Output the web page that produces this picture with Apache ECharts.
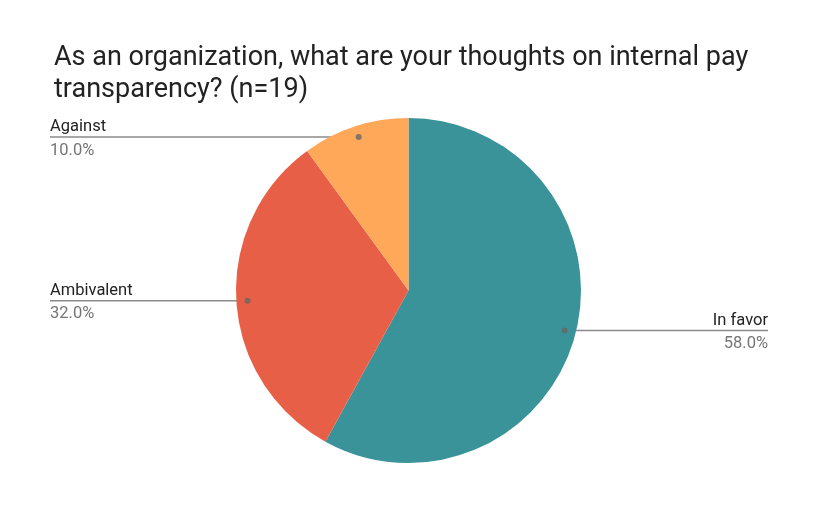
<!DOCTYPE html>
<html><head><meta charset="utf-8">
<script src="https://cdn.jsdelivr.net/npm/echarts@6/dist/echarts.min.js"></script>
<style>html,body{margin:0;padding:0;background:#fff}#c{width:818px;height:506px}</style>
</head><body><div id="c"></div>
<script>
const titleText = 'As an organization, what are your thoughts on internal pay\ntransparency? (n=19)';
const categories = ['In favor', 'Ambivalent', 'Against'];
const values = [58.0, 32.0, 10.0];
const colors = ['#3a9399', '#e85f47', '#ffa85a'];

const CX = 408.5, CY = 290.5, R = 172.5, DOT = 0.935, EDGE = 50, W = 818;
const total = values.reduce((a, b) => a + b, 0);
const mids = [];
let acc = 0;
values.forEach(v => { mids.push((acc + v / 2) / total * 100); acc += v; });
function dotPos(i) {
  const a = mids[i] / 100 * 2 * Math.PI;
  return [CX + Math.sin(a) * R * DOT, CY - Math.cos(a) * R * DOT];
}

const chart = echarts.init(document.getElementById('c'));
chart.setOption({
  animation: false,
  title: {
    text: titleText, left: 49, top: 37,
    textStyle: { fontFamily: 'Roboto', fontSize: 27, fontWeight: 'normal', color: '#222', lineHeight: 32 }
  },
  polar: { center: [CX, CY], radius: R },
  angleAxis: { type: 'value', min: 0, max: 100, startAngle: 90, show: false },
  radiusAxis: { type: 'value', min: 0, max: 1, show: false },
  series: [{
    type: 'pie',
    center: [CX, CY],
    radius: R,
    startAngle: 90,
    clockwise: true,
    data: categories.map((c, i) => ({ name: c, value: values[i], itemStyle: { color: colors[i] } })),
    label: {
      show: true, position: 'outside',
      formatter: p => '{n|' + p.name + '}\n{v|' + p.value.toFixed(1) + '%}',
      rich: {
        n: { fontFamily: 'Roboto', fontSize: 16.5, color: '#222', lineHeight: 27 },
        v: { fontFamily: 'Roboto', fontSize: 16.5, color: '#757575', lineHeight: 20 }
      }
    },
    labelLine: { show: true, lineStyle: { color: '#8a8a8a', width: 1.5 } },
    labelLayout: function (params) {
      const i = params.dataIndex;
      const d = dotPos(i);
      const left = d[0] < CX;
      const ex = left ? EDGE : W - EDGE;
      return {
        x: ex, y: d[1], align: left ? 'left' : 'right', verticalAlign: 'middle',
        labelLinePoints: [[d[0], d[1]], [d[0], d[1]], [ex, d[1]]]
      };
    },
    emphasis: { disabled: true }
  }, {
    type: 'scatter',
    coordinateSystem: 'polar',
    symbolSize: 6,
    itemStyle: { color: '#666' },
    z: 10,
    data: mids.map(m => [DOT, m]),
    silent: true
  }]
});
</script></body></html>
